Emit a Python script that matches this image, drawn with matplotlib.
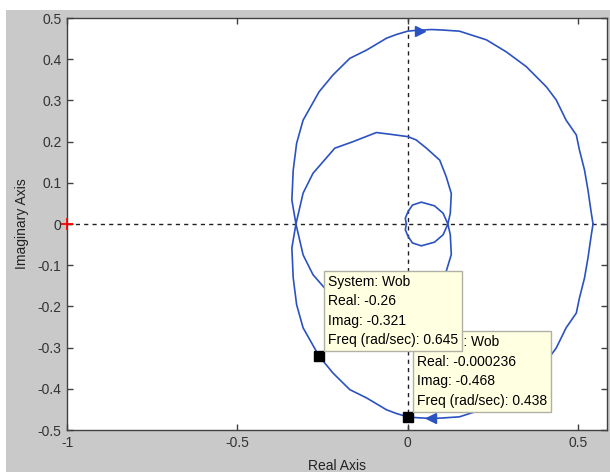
import matplotlib.pyplot as plt
from matplotlib.patches import Rectangle

plt.rcParams['font.family'] = ['Liberation Sans', 'DejaVu Sans']

# positive-frequency branch of the Nyquist curve (w from 0 upward)
re_pos = [0.544, 0.539, 0.529, 0.519, 0.504, 0.495, 0.465, 0.436, 0.407, 0.348,
          0.289, 0.231, 0.152, 0.099, 0.069, 0.025, -0.000236, -0.033, -0.062, -0.121,
          -0.170, -0.219, -0.26, -0.307, -0.326, -0.336, -0.340, -0.328,
          -0.307, -0.278, -0.214, -0.160, -0.092, -0.053, 0.001, 0.025, 0.055, 0.094,
          0.113, 0.128, 0.125, 0.118,
          0.104, 0.079, 0.040, 0.014, 0.001, -0.007, -0.004]
im_pos = [0.0, -0.026, -0.083, -0.131, -0.180, -0.216, -0.252, -0.301, -0.333, -0.382,
          -0.418, -0.447, -0.468, -0.471, -0.472, -0.470, -0.468, -0.460, -0.451, -0.422,
          -0.402, -0.362, -0.321, -0.252, -0.196, -0.131, -0.058, 0.0,
          0.075, 0.123, 0.184, 0.200, 0.222, 0.218, 0.212, 0.204, 0.184, 0.155,
          0.115, 0.074, 0.026, 0.0,
          0.026, 0.044, 0.053, 0.046, 0.030, 0.014, 0.0]

# negative frequencies: complex conjugate, traversed in reverse
re_neg = re_pos[::-1]
im_neg = [-v for v in im_pos[::-1]]

# data tips
tips = [
    {'re': -0.000236, 'im': -0.468, 'w': 0.438, 're_txt': '-0.000236', 'im_txt': '-0.468'},
    {'re': -0.26, 'im': -0.321, 'w': 0.645, 're_txt': '-0.26', 'im_txt': '-0.321'},
]

xticks = [-1, -0.5, 0, 0.5]
yticks = [0.5, 0.4, 0.3, 0.2, 0.1, 0, -0.1, -0.2, -0.3, -0.4, -0.5]

blue = '#2b52c0'

fig = plt.figure(figsize=(6.1, 4.72), dpi=100, facecolor='white')
fig.patches.append(Rectangle((6 / 610, 0), 604 / 610, 462 / 472, transform=fig.transFigure,
                             facecolor='#c9c9c9', edgecolor='none', zorder=-10))
ax = fig.add_axes([67 / 610, 42 / 472, 540 / 610, 412 / 472])
ax.set_facecolor('white')

ax.axhline(0, color='#202020', lw=1, ls=(0, (3, 3)), zorder=1)
ax.axvline(0, color='#202020', lw=1, ls=(0, (3, 3)), zorder=1)

ax.plot(re_pos, im_pos, color=blue, lw=1.2, zorder=2)
ax.plot(re_neg, im_neg, color=blue, lw=1.2, zorder=2)

# direction arrows
ax.plot([0.035], [0.469], marker='>', color=blue, ms=7, zorder=3)
ax.plot([0.069], [-0.472], marker='<', color=blue, ms=7, zorder=3)

# critical point
ax.plot([-1], [0], marker='+', color='red', ms=9, mew=1.3, zorder=4, clip_on=False)

for k, t in enumerate(tips):
    ax.plot([t['re']], [t['im']], marker='s', color='black', ms=6.5, zorder=5)
    txt = ('System: Wob\nReal: %s\nImag: %s\nFreq (rad/sec): %s'
           % (t['re_txt'], t['im_txt'], t['w']))
    ax.annotate(txt, xy=(t['re'], t['im']), xytext=(6.5, 6.5), textcoords='offset points',
                ha='left', va='bottom', fontsize=10, color='black', linespacing=1.5,
                bbox=dict(boxstyle='square,pad=0.28', facecolor='#ffffe1',
                          edgecolor='#b0b0a4', lw=1),
                zorder=6 + k)

ax.set_xlim(-1, 0.585)
ax.set_ylim(-0.5, 0.5)
ax.set_xticks(xticks)
ax.set_xticklabels(['-1', '-0.5', '0', '0.5'])
ax.set_yticks(yticks)
ax.set_yticklabels(['0.5', '0.4', '0.3', '0.2', '0.1', '0', '-0.1', '-0.2', '-0.3', '-0.4', '-0.5'])
ax.tick_params(direction='in', length=4, width=1, color='#404040', labelcolor='#333333',
               labelsize=10, top=True, right=True, pad=4)

for sp in ax.spines.values():
    sp.set_color('#404040')
    sp.set_linewidth(1)

ax.set_xlabel('Real Axis', fontsize=10, color='#222222', labelpad=7)
ax.set_ylabel('Imaginary Axis', fontsize=10, color='#222222', labelpad=6)

fig.savefig('out.png', dpi=100, facecolor=fig.get_facecolor())
